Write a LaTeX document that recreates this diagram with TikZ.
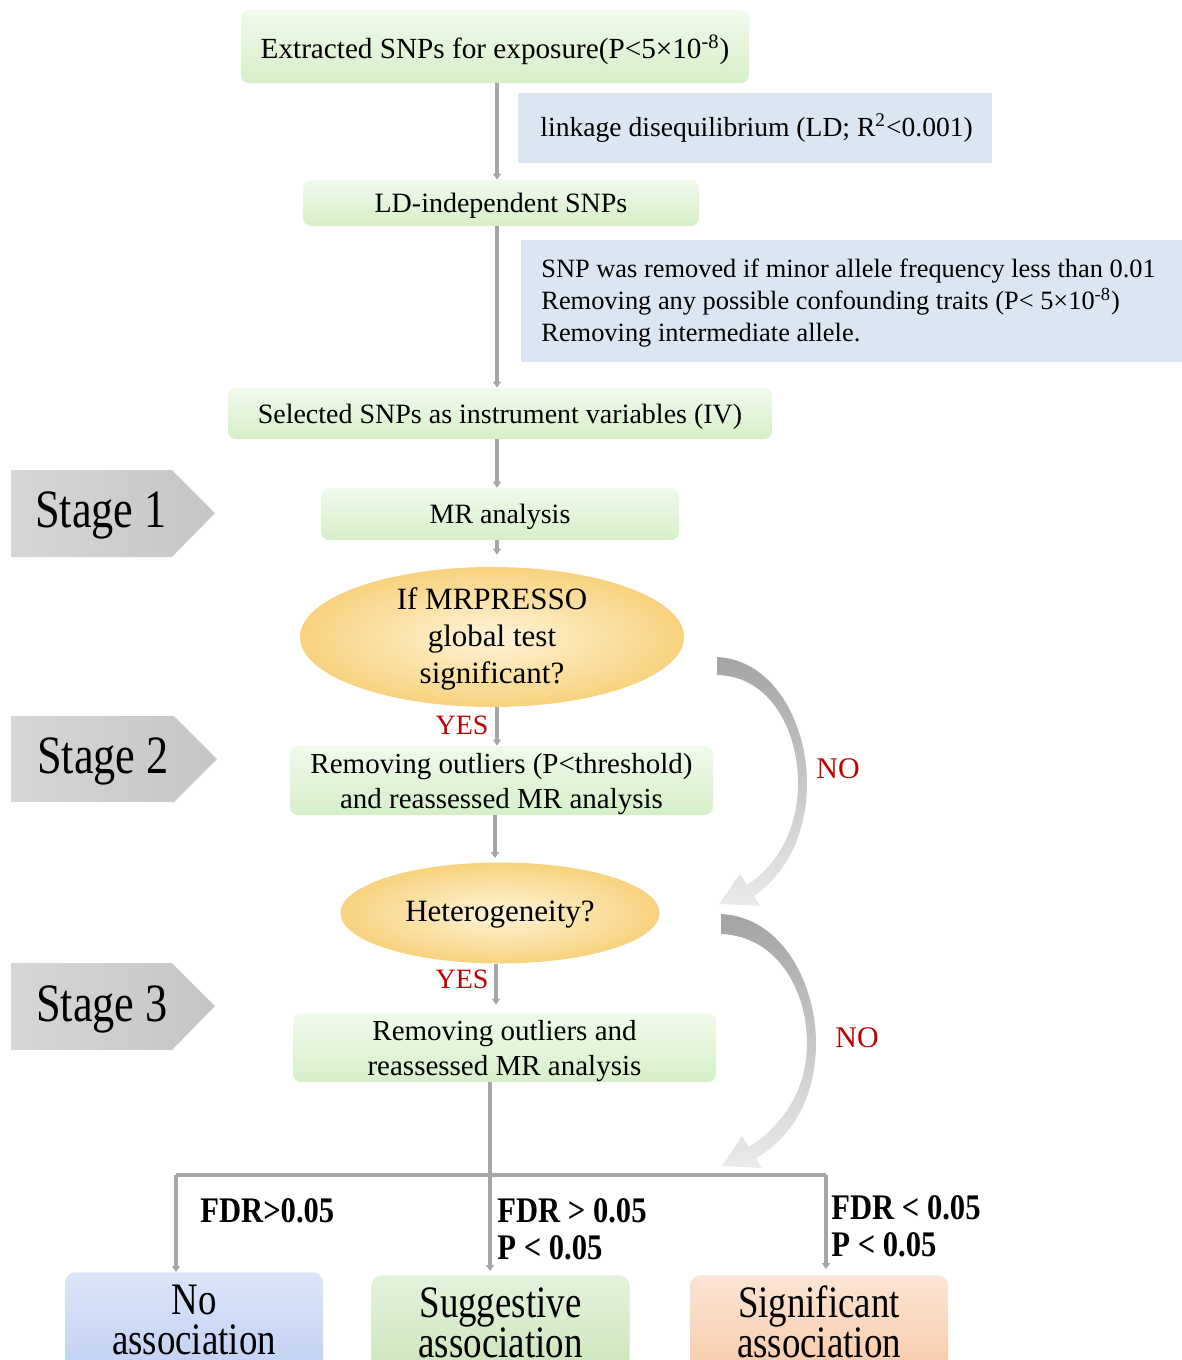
\documentclass[tikz,border=0pt]{standalone}
\usepackage{fontspec}
\usepackage{graphicx}
\setmainfont{Liberation Serif}
\usetikzlibrary{shapes.geometric,arrows.meta,calc}
\definecolor{gtop}{HTML}{F1FAEC}
\definecolor{gbot}{HTML}{D6EFC8}
\definecolor{infob}{HTML}{DCE6F2}
\definecolor{lineg}{HTML}{A6A6A6}
\definecolor{yesred}{HTML}{C00000}
\definecolor{ylin}{HTML}{FEF4D8}
\definecolor{ylout}{HTML}{F8D27E}
\definecolor{btop}{HTML}{DCE5F8}
\definecolor{bbot}{HTML}{BBCDF2}
\definecolor{sgtop}{HTML}{E4F2DB}
\definecolor{sgbot}{HTML}{C6E3B5}
\definecolor{otop}{HTML}{FCE5D4}
\definecolor{obot}{HTML}{F6C4A0}
\newcommand{\narrowtxt}[1]{\scalebox{0.82}[1]{#1}}
\newcommand{\narrowbold}[1]{\scalebox{0.85}[1]{#1}}
\tikzset{
  gbox/.style={rounded corners=4pt, top color=gtop, bottom color=gbot, draw=none,
    align=center, inner sep=0pt, text depth=0pt, font=\fontsize{14}{17.5}\selectfont},
  infobox/.style={fill=infob, draw=none, inner sep=0pt, anchor=north west},
  infotxt/.style={align=left, inner sep=0pt, anchor=west, font=\fontsize{13.8}{15.8}\selectfont},
  decis/.style={ellipse, inner color=ylin, outer color=ylout, draw=none, inner sep=0pt},
  dectxt/.style={align=center, inner sep=0pt, font=\fontsize{15.5}{18.5}\selectfont},
  conn/.style={draw=lineg, line width=2pt, -{Triangle[length=3pt,width=4pt]}},
  connplain/.style={draw=lineg, line width=2pt},
  stageshade/.style={left color=gray!32, middle color=gray!4, right color=gray!45, draw=none},
  stagetxt/.style={inner sep=0pt, font=\fontsize{27}{30}\selectfont},
  resbox/.style={rounded corners=5pt, draw=none, anchor=north, minimum width=129pt, minimum height=60pt},
  restxt/.style={inner sep=0pt, anchor=base, font=\fontsize{22.5}{30}\selectfont},
  yesno/.style={text=yesred, inner sep=0pt, font=\fontsize{14}{16}\selectfont},
  fdr/.style={inner sep=0pt, anchor=base west, font=\bfseries\fontsize{18}{20}\selectfont},
  curvarrow/.style={top color=gray!72, bottom color=gray!16, draw=none}
}
\begin{document}
\begin{tikzpicture}[x=0.5pt,y=-0.5pt]
\useasboundingbox (0,0) rectangle (1182,1360);
\clip (0,0) rectangle (1182,1360);

% main boxes
\node[gbox, minimum width=254pt, minimum height=36.5pt, font=\fontsize{14.6}{17.5}\selectfont] (b1) at (495,46.5)
  {Extracted SNPs for exposure(P<5×10\textsuperscript{-8})};
\node[infobox, minimum width=237pt, minimum height=35pt] (i1) at (518,93) {};
\node[infotxt] (i1t) at (540,128) {linkage disequilibrium (LD; R\textsuperscript{2}<0.001)};
\node[gbox, minimum width=198pt, minimum height=23pt] (b2) at (501,203) {LD-independent SNPs};
\node[infobox, minimum width=340pt, minimum height=61pt] (i2) at (521,240) {};
\node[infotxt, font=\fontsize{13.2}{15.8}\selectfont] (i2t) at (541,303)
  {SNP was removed if minor allele frequency less than 0.01\\
   Removing any possible confounding traits (P< 5×10\textsuperscript{-8})\\
   Removing intermediate allele.};
\node[gbox, minimum width=272pt, minimum height=25.5pt] (b3) at (500,413.5)
  {Selected SNPs as instrument variables (IV)};
\node[gbox, minimum width=179pt, minimum height=26pt] (b4) at (500,514) {MR analysis};
\node[decis, minimum width=192pt, minimum height=70pt] (e1) at (492,637) {};
\node[dectxt] (e1t) at (492,639) {If MRPRESSO\\global test\\significant?};
\node[gbox, minimum width=211.5pt, minimum height=34.5pt, font=\fontsize{14.5}{17.5}\selectfont] (b5) at (501.5,780.5)
  {Removing outliers (P<threshold)\\and reassessed MR analysis};
\node[decis, minimum width=159.5pt, minimum height=50.5pt] (e2) at (500,913) {};
\node[dectxt] (e2t) at (500,915) {Heterogeneity?};
\node[gbox, minimum width=211.5pt, minimum height=34.5pt, font=\fontsize{14.5}{17.5}\selectfont] (b6) at (504.5,1047.5)
  {Removing outliers and\\reassessed MR analysis};

% stage arrows
\shade[stageshade] (11,470) -- (172,470) -- (215,513) -- (172,557) -- (11,557) -- cycle;
\node[stagetxt] (s1) at (101,515) {\narrowtxt{Stage 1}};
\shade[stageshade] (11,716) -- (174,716) -- (217,759) -- (174,802) -- (11,802) -- cycle;
\node[stagetxt] (s2) at (103,761) {\narrowtxt{Stage 2}};
\shade[stageshade] (11,963) -- (172,963) -- (215,1006) -- (172,1050) -- (11,1050) -- cycle;
\node[stagetxt] (s3) at (102,1009) {\narrowtxt{Stage 3}};

% result boxes
\node[resbox, top color=btop, bottom color=bbot] (noa) at (194,1272) {};
\node[restxt] (noat1) at (194,1314) {\narrowtxt{No}};
\node[restxt] (noat2) at (194,1354) {\narrowtxt{association}};
\node[resbox, top color=sgtop, bottom color=sgbot] (sug) at (500.5,1275) {};
\node[restxt] (sugt1) at (500.5,1317) {\narrowtxt{Suggestive}};
\node[restxt] (sugt2) at (500.5,1357) {\narrowtxt{association}};
\node[resbox, top color=otop, bottom color=obot] (sig) at (819,1275) {};
\node[restxt] (sigt1) at (819,1317) {\narrowtxt{Significant}};
\node[restxt] (sigt2) at (819,1357) {\narrowtxt{association}};

% connectors
\coordinate (x1) at (497,0);
\coordinate (x2) at (495,0);
\coordinate (x3) at (496,0);
\coordinate (x4) at (490,0);
\coordinate (hl) at (176,1175);
\coordinate (hr) at (826,1175);
\draw[conn] (b1.south -| x1) -- (b2.north -| x1);
\draw[conn] (b2.south -| x1) -- (b3.north -| x1);
\draw[conn] (b3.south -| x1) -- (b4.north -| x1);
\draw[conn, shorten >=6pt] (b4.south -| x1) -- (e1.north -| x1);
\draw[conn] (e1.south -| x1) -- (b5.north -| x1);
\draw[conn, shorten >=2pt] (b5.south -| x2) -- (e2.north -| x2);
\draw[conn, shorten >=4pt] (e2.south -| x3) -- (b6.north -| x3);
\draw[conn, shorten >=2pt] (b6.south -| x4) -- (sug.north -| x4);
\draw[connplain] (hl) -- (hr);
\draw[conn] (hl) -- (noa.north -| hl);
\draw[conn, shorten >=3pt] (hr) -- (sig.north -| hr);

% YES / NO labels
\node[yesno] (y1) at (462,725) {YES};
\node[yesno] (y2) at (462,979) {YES};
\node[yesno, font=\fontsize{15}{17}\selectfont] (n1) at (838,769) {NO};
\node[yesno, font=\fontsize{15}{17}\selectfont] (n2) at (857,1038) {NO};

% curved NO arrows
\coordinate (ca1) at (717,657);
\coordinate (ca2) at (721,914);
\shade[curvarrow] (ca1) .. controls (775,660) and (807,725) .. (807,783)
  .. controls (807,835) and (785,875) .. (754,896) -- (760,906) -- (719,904) -- (740,874) -- (747,885)
  .. controls (777,865) and (798,830) .. (798,783) .. controls (798,730) and (770,676) .. (717,675) -- cycle;
\shade[curvarrow] (ca2) .. controls (783,917) and (816,985) .. (816,1043)
  .. controls (816,1097) and (792,1138) .. (756,1158) -- (762,1168) -- (722,1166) -- (742,1136) -- (749,1147)
  .. controls (781,1126) and (807,1092) .. (807,1043) .. controls (807,990) and (777,936) .. (721,934) -- cycle;

% FDR labels
\node[fdr] (f1) at (200,1222) {\narrowbold{FDR>0.05}};
\node[fdr] (f2a) at (497,1222) {\narrowbold{FDR > 0.05}};
\node[fdr] (f2b) at (497,1259) {\narrowbold{P < 0.05}};
\node[fdr] (f3a) at (831,1219) {\narrowbold{FDR < 0.05}};
\node[fdr] (f3b) at (831,1256) {\narrowbold{P < 0.05}};
\end{tikzpicture}
\end{document}
